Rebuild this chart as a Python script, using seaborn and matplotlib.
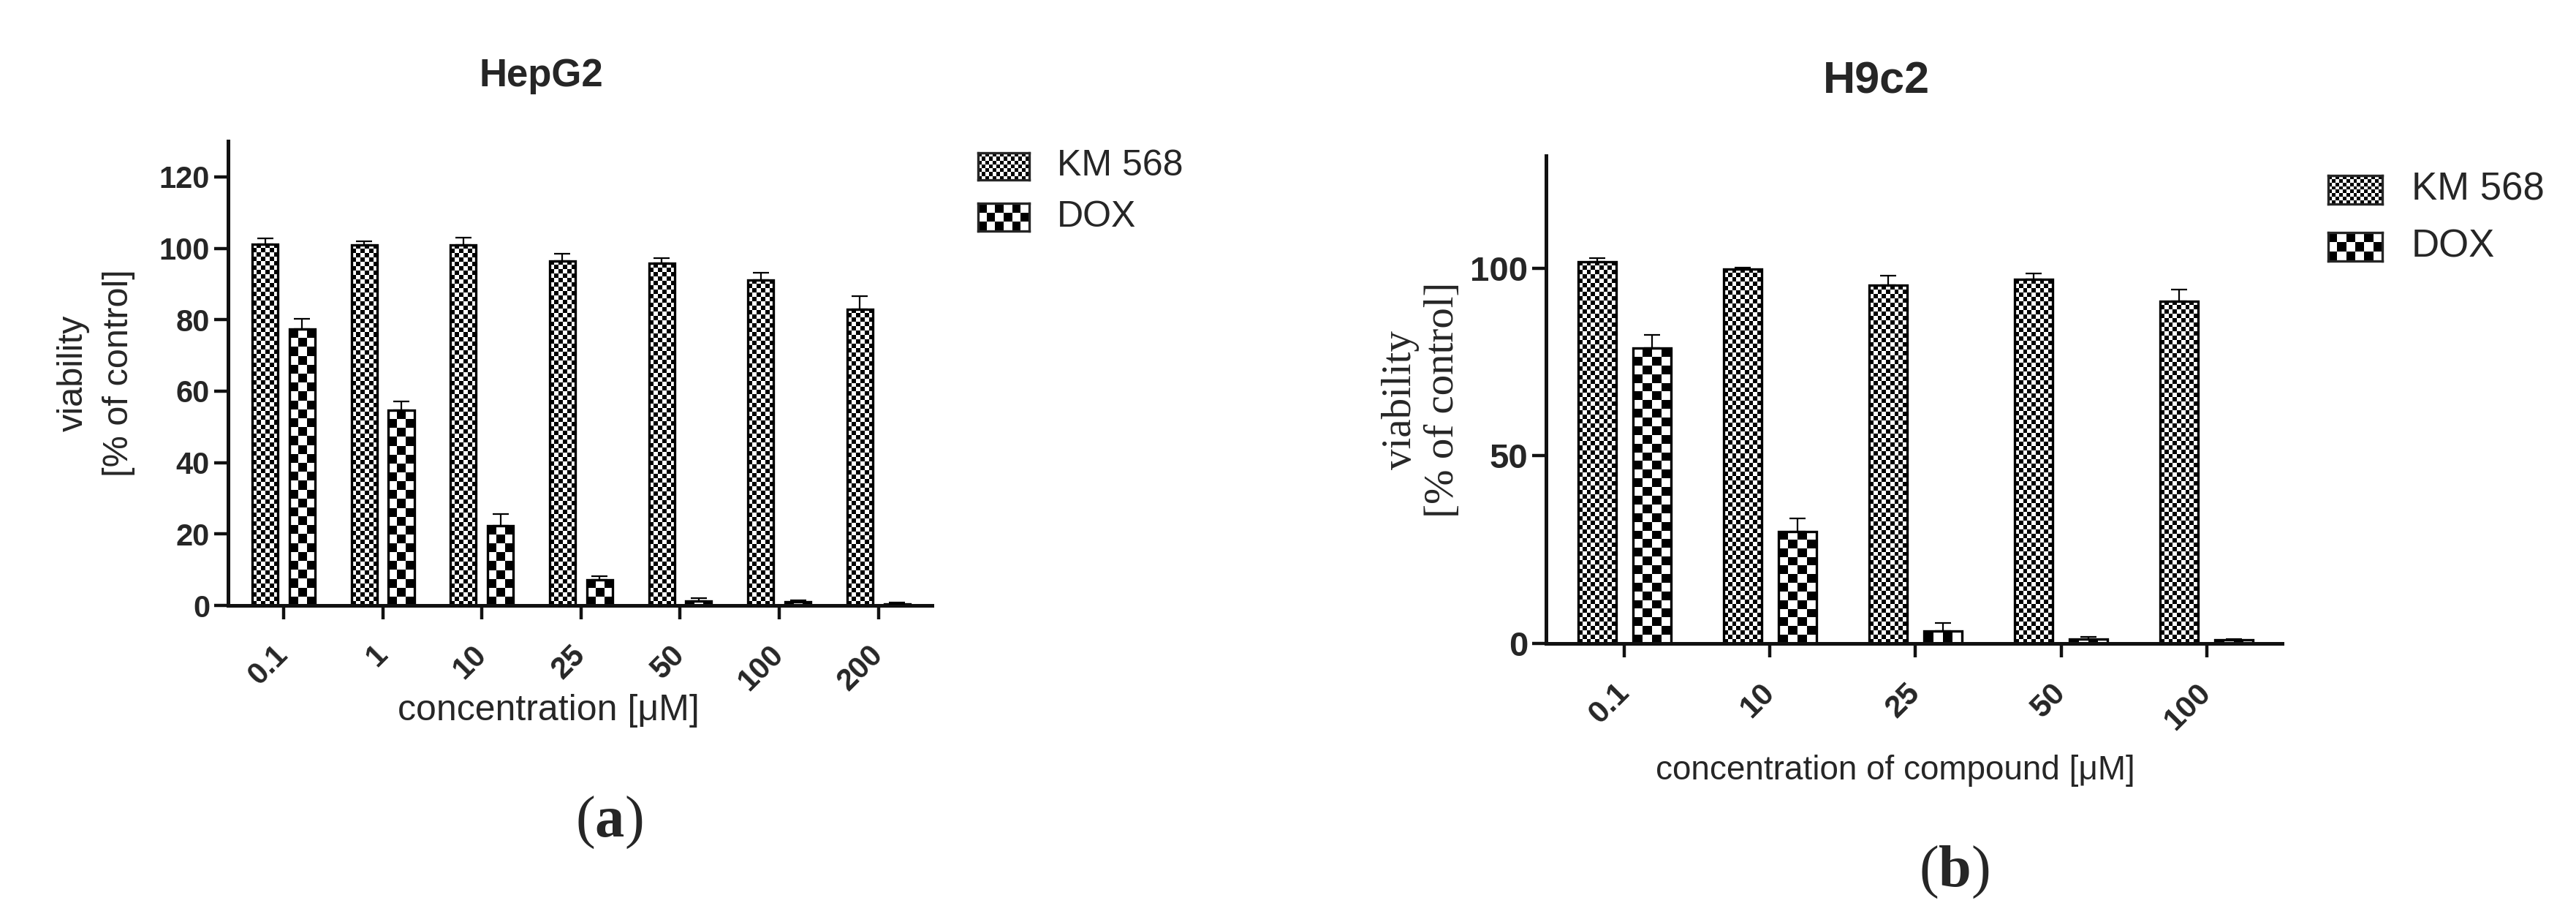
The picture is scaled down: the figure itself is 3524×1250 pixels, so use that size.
import numpy as np
import pandas as pd
import matplotlib
matplotlib.use("Agg")
import matplotlib.pyplot as plt
import seaborn as sns
from matplotlib import font_manager

# HepG2 panel (a)
hep_conc = ["0.1", "1", "10", "25", "50", "100", "200"]
hep_km = [101.2, 101.0, 101.0, 96.5, 95.8, 91.2, 83.0]
hep_km_err = [1.5, 1.0, 2.0, 2.0, 1.4, 2.0, 3.6]
hep_dox = [77.3, 54.6, 22.3, 7.2, 1.3, 1.0, 0.5]
hep_dox_err = [3.0, 2.5, 3.2, 1.0, 0.8, 0.5, 0.3]

# H9c2 panel (b)
h9_conc = ["0.1", "10", "25", "50", "100"]
h9_km = [101.8, 99.8, 95.5, 97.0, 91.3]
h9_km_err = [1.0, 0.3, 2.5, 1.6, 3.0]
h9_dox = [78.7, 29.9, 3.3, 1.2, 0.9]
h9_dox_err = [3.5, 3.5, 2.2, 0.5, 0.3]

compounds = ["KM 568", "DOX"]

W, H = 3524, 1250
sns.set_style("ticks")
names = {f.name for f in font_manager.fontManager.ttflist}
narrow = "Liberation Sans Narrow" if "Liberation Sans Narrow" in names else "Liberation Sans"
plt.rcParams["font.family"] = ["Liberation Sans", "DejaVu Sans"]
plt.rcParams["mathtext.fontset"] = "custom"
plt.rcParams["mathtext.rm"] = "Liberation Serif"
plt.rcParams["mathtext.bf"] = "Liberation Serif:bold"

fig = plt.figure(figsize=(W / 100, H / 100), dpi=100)
fig.patch.set_facecolor("white")


def px_axes(x0, y0, x1, y1):
    # pixel box (top-left origin) -> figure rect
    return [x0 / W, 1 - y1 / H, (x1 - x0) / W, (y1 - y0) / H]


def checker(nrow, ncol):
    return np.indices((nrow, ncol)).sum(axis=0) % 2


def draw_panel(ax, conc, km, km_err, dox, dox_err, xlim, yticks, tick_fs, xtick_fs):
    n = len(conc)
    df = pd.DataFrame({
        "conc": conc * 2,
        "compound": [compounds[0]] * n + [compounds[1]] * n,
        "viability": km + dox,
    })
    sns.barplot(data=df, x="conc", y="viability", hue="compound", order=conc,
                hue_order=compounds, palette=["white", "white"], saturation=1,
                edgecolor="black", linewidth=2.4, width=0.75, gap=0.31,
                errorbar=None, legend=False, ax=ax)
    ax.set_xlim(*xlim)
    ax.set_ylim(0, 130)

    p0 = ax.transData.transform((0, 0))
    p1 = ax.transData.transform((1, 1))
    sx, sy = p1[0] - p0[0], p1[1] - p0[1]

    for cont, errs, cell in zip(ax.containers[:2], [km_err, dox_err], [6, 12]):
        xs, hs = [], []
        for patch in cont:
            x0, w, h = patch.get_x(), patch.get_width(), patch.get_height()
            ncol = max(1, round(w * sx / cell))
            nrow = max(1, round(h * sy / cell))
            ax.imshow(checker(nrow, ncol), cmap="gray", vmin=0, vmax=1,
                      extent=(x0, x0 + w, 0, h), origin="lower",
                      interpolation="nearest", aspect="auto", zorder=1.9)
            patch.set_facecolor("none")
            patch.set_zorder(2)
            xs.append(x0 + w / 2)
            hs.append(h)
        ax.errorbar(xs, hs, yerr=[np.zeros(n), errs], fmt="none", ecolor="black",
                    elinewidth=1.6, capsize=8, capthick=1.6, zorder=3)

    ax.set_xlim(*xlim)
    ax.set_ylim(0, 130)
    ax.set_yticks(yticks)
    ax.set_yticklabels([str(t) for t in yticks], fontsize=tick_fs,
                       fontweight="bold", family=narrow)
    ax.set_xticks(range(n))
    ax.set_xticklabels(conc, rotation=45, ha="right", va="center",
                       rotation_mode="anchor", fontsize=xtick_fs,
                       fontweight="bold", family=narrow)
    ax.tick_params(axis="both", length=14, width=3.2, color="#111111")
    ax.tick_params(axis="x", pad=30)
    ax.tick_params(axis="y", pad=4)
    sns.despine(ax=ax)
    for s in ["left", "bottom"]:
        ax.spines[s].set_linewidth(3.6)
        ax.spines[s].set_color("#111111")
    ax.set_facecolor("none")


def legend_box(x, y, w, h, cell, label, tx, fs):
    sax = fig.add_axes(px_axes(x, y, x + w, y + h))
    sax.imshow(checker(max(1, round(h / cell)), max(1, round(w / cell))),
               cmap="gray", vmin=0, vmax=1, aspect="auto", interpolation="nearest")
    sax.set_xticks([])
    sax.set_yticks([])
    for s in sax.spines.values():
        s.set_linewidth(2.4)
    fig.text(tx / W, 1 - (y + h / 2) / H, label, ha="left", va="center", fontsize=fs)


# panel (a)
ax1 = fig.add_axes(px_axes(312, 193, 1275, 828))
draw_panel(ax1, hep_conc, hep_km, hep_km_err, hep_dox, hep_dox_err,
           (-0.56, 6.54), [0, 20, 40, 60, 80, 100, 120], 30, 30)
ax1.set_xlabel("concentration [\u03bcM]", fontsize=36)
ax1.xaxis.set_label_coords(0.455, -0.19)
ax1.set_ylabel("viability\n[% of control]", fontsize=35, linespacing=1.5)
ax1.yaxis.set_label_coords(-0.132, 0.5)
fig.text(740 / W, 1 - 104 / H, "HepG2", ha="center", va="center",
         fontsize=38, fontweight="bold", family=narrow)
legend_box(1338, 209, 70, 37, 5, "KM 568", 1446, 36)
legend_box(1338, 278, 70, 38, 12, "DOX", 1446, 36)
fig.text(833 / W, 1 - 1125 / H, r"($\mathbf{a}$)", ha="center", va="center",
         fontsize=58, family="Liberation Serif")

# panel (b)
ax2 = fig.add_axes(px_axes(2115, 213, 3122, 880))
draw_panel(ax2, h9_conc, h9_km, h9_km_err, h9_dox, h9_dox_err,
           (-0.54, 4.52), [0, 50, 100], 34, 31)
ax2.set_xlabel("concentration of compound [\u03bcM]", fontsize=33)
ax2.xaxis.set_label_coords(0.474, -0.228)
ax2.set_ylabel("viability\n[% of control]", fontsize=41, linespacing=1.15,
               family="Liberation Serif")
ax2.yaxis.set_label_coords(-0.114, 0.5)
fig.text(2567 / W, 1 - 112 / H, "H9c2", ha="center", va="center",
         fontsize=44, fontweight="bold", family=narrow)
legend_box(3185, 240, 74, 39, 5, "KM 568", 3299, 38)
legend_box(3185, 318, 74, 39, 12, "DOX", 3299, 38)
fig.text(2673 / W, 1 - 1193 / H, r"($\mathbf{b}$)", ha="center", va="center",
         fontsize=58, family="Liberation Serif")

fig.savefig("out.png", dpi=100, facecolor="white")
